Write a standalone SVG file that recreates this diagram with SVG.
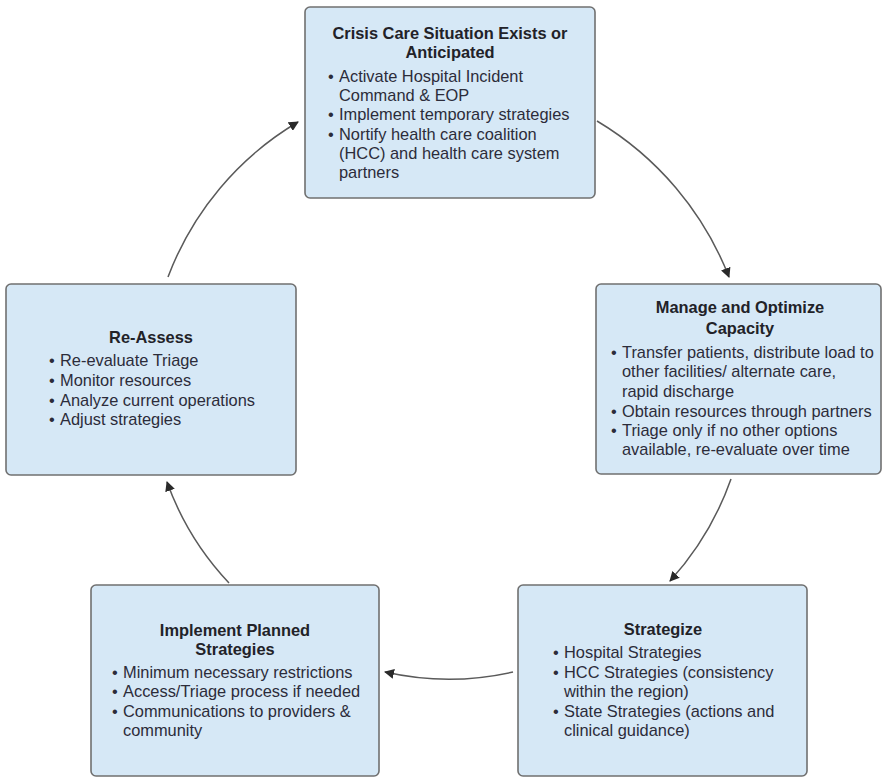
<svg xmlns="http://www.w3.org/2000/svg" width="882" height="777" viewBox="0 0 882 777">
<style>
.box{fill:#d6e8f6;stroke:#707070;stroke-width:1.6}
.t{font-family:"Liberation Sans",Arial,sans-serif;font-size:16.4px;fill:#2c2c3a}
.h{font-weight:bold;text-anchor:middle;fill:#222228}
.c{fill:none;stroke:#5a5a5a;stroke-width:1.5}
</style>
<defs>
<marker id="ah" viewBox="0 0 10 10" refX="9" refY="5" markerWidth="10" markerHeight="10" markerUnits="userSpaceOnUse" orient="auto">
<path d="M0,0 L10,5 L0,10 z" fill="#2a2a2a"/>
</marker>
</defs>
<rect width="882" height="777" fill="#ffffff"/>
<g id="connectors">
<path class="c" d="M168,277 A305,305 0 0 1 298,122" marker-end="url(#ah)"/>
<path class="c" d="M597,121 A315,315 0 0 1 729,277" marker-end="url(#ah)"/>
<path class="c" d="M731,479 A300,300 0 0 1 670,581" marker-end="url(#ah)"/>
<path class="c" d="M513,672 A290,290 0 0 1 385,672" marker-end="url(#ah)"/>
<path class="c" d="M229,583 A290,290 0 0 1 167,482" marker-end="url(#ah)"/>
</g>
<g id="node-crisis">
<rect class="box" x="305" y="7" width="290" height="191" rx="5"/>
<text class="t h" x="450" y="39">Crisis Care Situation Exists or</text>
<text class="t h" x="450" y="58">Anticipated</text>
<text class="t" x="328" y="82">•</text>
<text class="t" x="339" y="82">Activate Hospital Incident</text>
<text class="t" x="339" y="101">Command &amp; EOP</text>
<text class="t" x="328" y="120">•</text>
<text class="t" x="339" y="120">Implement temporary strategies</text>
<text class="t" x="328" y="140">•</text>
<text class="t" x="339" y="140">Nortify health care coalition</text>
<text class="t" x="339" y="159">(HCC) and health care system</text>
<text class="t" x="339" y="178">partners</text>
</g>
<g id="node-manage">
<rect class="box" x="596" y="284" width="285" height="190" rx="5"/>
<text class="t h" x="740" y="313">Manage and Optimize</text>
<text class="t h" x="740" y="334">Capacity</text>
<text class="t" x="611" y="358">•</text>
<text class="t" x="622" y="358">Transfer patients, distribute load to</text>
<text class="t" x="622" y="377">other facilities/ alternate care,</text>
<text class="t" x="622" y="397">rapid discharge</text>
<text class="t" x="611" y="417">•</text>
<text class="t" x="622" y="417">Obtain resources through partners</text>
<text class="t" x="611" y="436">•</text>
<text class="t" x="622" y="436">Triage only if no other options</text>
<text class="t" x="622" y="455">available, re-evaluate over time</text>
</g>
<g id="node-strategize">
<rect class="box" x="518" y="585" width="289" height="191" rx="5"/>
<text class="t h" x="663" y="635">Strategize</text>
<text class="t" x="553" y="658">•</text>
<text class="t" x="564" y="658">Hospital Strategies</text>
<text class="t" x="553" y="678">•</text>
<text class="t" x="564" y="678">HCC Strategies (consistency</text>
<text class="t" x="564" y="697">within the region)</text>
<text class="t" x="553" y="717">•</text>
<text class="t" x="564" y="717">State Strategies (actions and</text>
<text class="t" x="564" y="736">clinical guidance)</text>
</g>
<g id="node-implement">
<rect class="box" x="91" y="585" width="288" height="191" rx="5"/>
<text class="t h" x="235" y="636">Implement Planned</text>
<text class="t h" x="235" y="655">Strategies</text>
<text class="t" x="112" y="678">•</text>
<text class="t" x="123" y="678">Minimum necessary restrictions</text>
<text class="t" x="112" y="697">•</text>
<text class="t" x="123" y="697">Access/Triage process if needed</text>
<text class="t" x="112" y="717">•</text>
<text class="t" x="123" y="717">Communications to providers &amp;</text>
<text class="t" x="123" y="736">community</text>
</g>
<g id="node-reassess">
<rect class="box" x="6" y="284" width="290" height="191" rx="5"/>
<text class="t h" x="151" y="343">Re-Assess</text>
<text class="t" x="49" y="366">•</text>
<text class="t" x="60" y="366">Re-evaluate Triage</text>
<text class="t" x="49" y="386">•</text>
<text class="t" x="60" y="386">Monitor resources</text>
<text class="t" x="49" y="406">•</text>
<text class="t" x="60" y="406">Analyze current operations</text>
<text class="t" x="49" y="425">•</text>
<text class="t" x="60" y="425">Adjust strategies</text>
</g>
</svg>
